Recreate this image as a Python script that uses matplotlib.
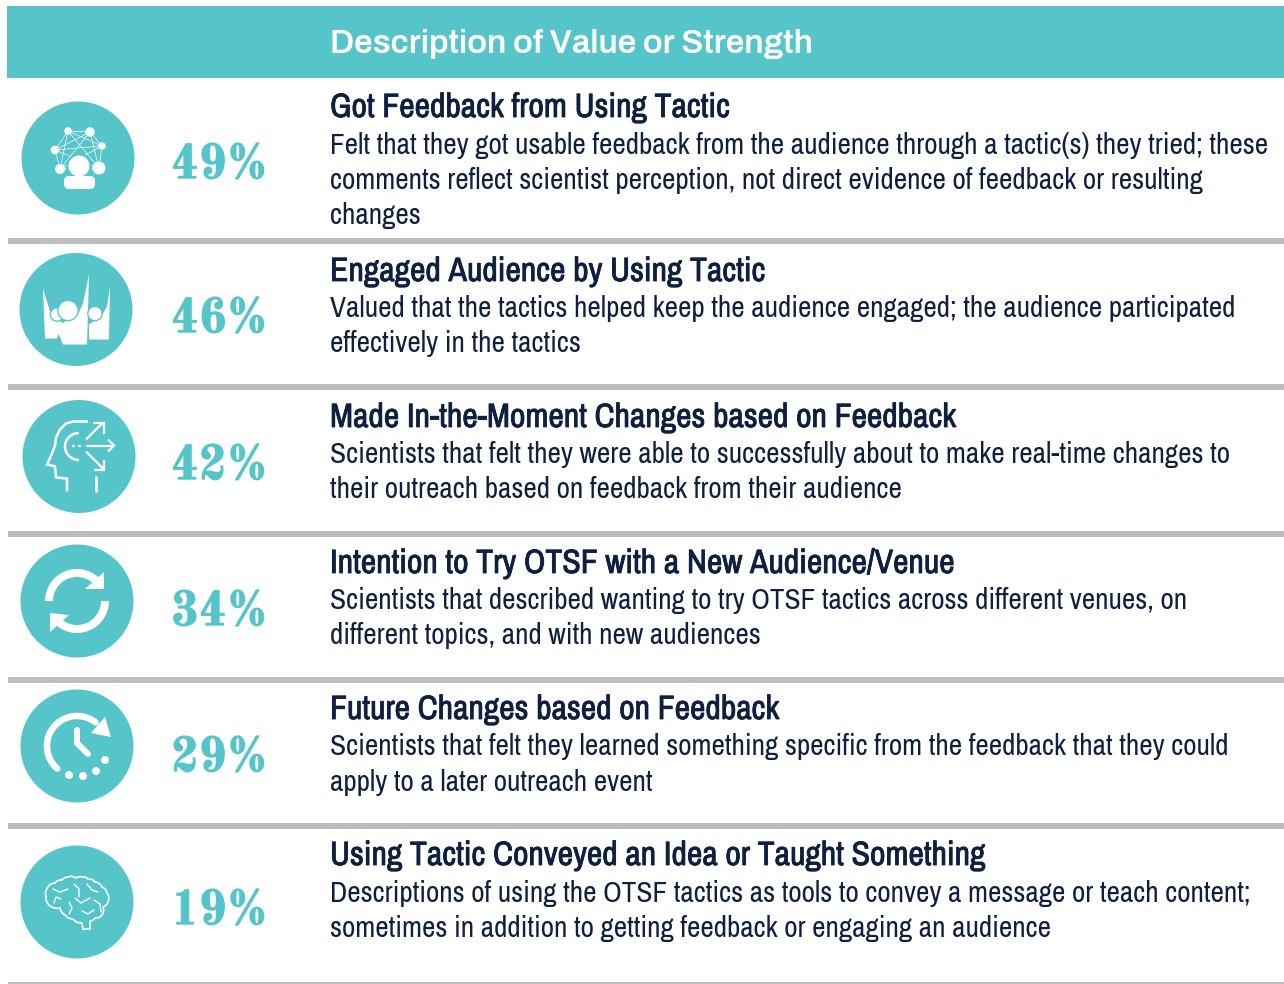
import matplotlib
matplotlib.use("Agg")
import matplotlib.pyplot as plt
import matplotlib.patheffects as pe
from matplotlib.patches import Rectangle, Circle, Polygon, Wedge, Arc, FancyBboxPatch, PathPatch
from matplotlib.path import Path
import numpy as np

TEAL = "#55C5C9"
NAVY = "#0E1F40"
GREY = "#BDBDBD"

header = "Description of Value or Strength"
percents = ["49%", "46%", "42%", "34%", "29%", "19%"]
titles = ["Got Feedback from Using Tactic", "Engaged Audience by Using Tactic",
          "Made In-the-Moment Changes based on Feedback", "Intention to Try OTSF with a New Audience/Venue",
          "Future Changes based on Feedback", "Using Tactic Conveyed an Idea or Taught Something"]
descriptions = [
    ["Felt that they got usable feedback from the audience through a tactic(s) they tried; these",
     "comments reflect scientist perception, not direct evidence of feedback or resulting", "changes"],
    ["Valued that the tactics helped keep the audience engaged; the audience participated",
     "effectively in the tactics"],
    ["Scientists that felt they were able to successfully about to make real-time changes to",
     "their outreach based on feedback from their audience"],
    ["Scientists that described wanting to try OTSF tactics across different venues, on",
     "different topics, and with new audiences"],
    ["Scientists that felt they learned something specific from the feedback that they could",
     "apply to a later outreach event"],
    ["Descriptions of using the OTSF tactics as tools to convey a message or teach content;",
     "sometimes in addition to getting feedback or engaging an audience"],
]
title_y = [117, 281, 427, 573, 719, 865]
desc_y = [[154, 189, 224], [317, 352], [463, 498], [609, 644], [755, 791], [902, 937]]
pct_y = [161, 315, 462, 608, 754, 907]
icon_xy = [(78, 158), (76, 309.5), (79, 456.5), (77, 601), (77, 746), (77, 902)]
rule_y = [241, 387, 534, 680, 826]

fig = plt.figure(figsize=(12.84, 9.84), dpi=100, facecolor="white")
ax = fig.add_axes([0, 0, 1, 1])
ax.set_xlim(0, 1284)
ax.set_ylim(984, 0)
ax.axis("off")

ax.add_patch(Rectangle((7, 6), 1277, 72, fc=TEAL, ec="none"))
ax.text(330, 44, header, color="white", fontsize=23.85, fontweight="bold",
        family=["Archivo", "Inter", "DejaVu Sans"], va="center")

for y in rule_y:
    ax.add_patch(Rectangle((8, y - 3), 1276, 6, fc=GREY, ec="none"))
ax.add_patch(Rectangle((8, 981.5), 1276, 2, fc=GREY, ec="none"))


def line(xs, ys, lw=1.6, cap="butt", **kw):
    ax.plot(xs, ys, color="white", lw=lw, zorder=4, solid_capstyle=cap, solid_joinstyle="miter", **kw)


def tri(cx, cy, pts, z=4):
    ax.add_patch(Polygon([(cx + x, cy + y) for x, y in pts], closed=True, fc="white", ec="none", zorder=z))


def dot(cx, cy, dx, dy, r, z=4, fc="white"):
    ax.add_patch(Circle((cx + dx, cy + dy), r, fc=fc, ec="none", zorder=z))


def icon_network(cx, cy):
    nodes = [(-10, -27, 3.7), (12, -26, 4.7), (24, -12, 3.7), (-23, -8, 4.3), (-18, 11, 5), (21, 10, 6.5)]
    for i in range(len(nodes)):
        for j in range(i + 1, len(nodes)):
            line([cx + nodes[i][0], cx + nodes[j][0]], [cy + nodes[i][1], cy + nodes[j][1]], lw=0.5)
    for dx, dy, r in nodes:
        dot(cx, cy, dx, dy, r)
    dot(cx, cy, 1, 8, 12.5, z=4.5, fc=TEAL)
    dot(cx, cy, 1, 8, 10.5, z=5)
    ax.add_patch(FancyBboxPatch((cx - 14, cy + 18), 31, 13, boxstyle="round,pad=0,rounding_size=5",
                                fc="white", ec="none", zorder=5))


def icon_crowd(cx, cy):
    tri(cx, cy, [(-33, -21), (-26, 2), (-20, 10), (-10, 15), (-15, 18), (-19, 29), (-31, 29)])
    tri(cx, cy, [(34, -23), (31, -3), (26, 6), (19, 11), (13, 15), (13, 30), (33, 30)])
    tri(cx, cy, [(-20, 18), (-9, 11), (2, 5), (7, -6), (13, -35), (11, 35), (-13, 35)], z=4.6)
    for dx, dy, r in ((-19, 5, 6), (-8, 1, 9.5), (19, 4, 6.5)):
        dot(cx, cy, dx, dy, r + 1.3, z=4.5 if dx < -10 else 4.7, fc=TEAL)
        dot(cx, cy, dx, dy, r, z=4.55 if dx < -10 else 4.8)


def icon_head(cx, cy):
    pts = [(9, -35), (-6, -35), (-13, -33), (-19, -27), (-23, -19), (-24, -11), (-27, -3), (-32, 8), (-24, 10),
           (-23, 21), (-12, 22), (-12, 35)]
    line([cx + p[0] for p in pts], [cy + p[1] for p in pts], lw=1.8)
    line([cx + 17, cx + 17], [cy + 19, cy + 35], lw=2)
    ax.add_patch(Arc((cx, cy - 10), 28, 27, theta1=90, theta2=270, color="white", lw=1.8, zorder=4))
    line([cx - 7, cx + 5], [cy - 11, cy - 11], lw=1.6, linestyle=(0, (1.2, 1.6)))
    line([cx + 7, cx + 34], [cy - 11, cy - 11], lw=1.6)
    line([cx + 29, cx + 35, cx + 29], [cy - 17, cy - 11, cy - 5], lw=1.6)
    line([cx + 7, cx + 24], [cy - 17, cy - 34], lw=1.6)
    line([cx + 14, cx + 25, cx + 25], [cy - 34, cy - 34, cy - 23], lw=1.6)
    line([cx + 7, cx + 24], [cy - 5, cy + 12], lw=1.6)
    line([cx + 25, cx + 25, cx + 15], [cy + 3, cy + 13, cy + 13], lw=1.6)


def icon_cycle(cx, cy):
    ax.add_patch(Wedge((cx, cy), 32, 180, 318, width=8, fc="white", ec="none", zorder=4))
    ax.add_patch(Wedge((cx, cy), 32, 0, 138, width=8, fc="white", ec="none", zorder=4))
    tri(cx, cy, [(27, -29), (27, -12), (8, -12)])
    tri(cx, cy, [(-27, 31), (-27, 12), (-8, 14)])


def icon_clock(cx, cy):
    ts = np.radians(np.arange(131, 311, 3))
    line(cx + 30 * np.cos(ts), cy + 30 * np.sin(ts), lw=4.7, cap="round")
    tri(cx, cy, [(28, -29), (34, -9), (14, -13)])
    ax.plot([cx, cx, cx + 11], [cy - 16, cy - 3, cy + 8], color="white", lw=4.3, zorder=4,
            solid_capstyle="round", solid_joinstyle="round")
    for dx, dy in ((-8, 29), (6, 30), (19, 25), (28, 14)):
        dot(cx, cy, dx, dy, 4)


def curve(cx, cy, pts, bulge=0.35, lw=1.2):
    verts = [(cx + pts[0][0], cy + pts[0][1])]
    codes = [Path.MOVETO]
    for (x0, y0), (x1, y1) in zip(pts[:-1], pts[1:]):
        mx, my = (x0 + x1) / 2, (y0 + y1) / 2
        verts += [(cx + mx + (y1 - y0) * bulge, cy + my - (x1 - x0) * bulge), (cx + x1, cy + y1)]
        codes += [Path.CURVE3, Path.CURVE3]
    ax.add_patch(PathPatch(Path(verts, codes), fc="none", ec="white", lw=lw, zorder=4, capstyle="round"))


def icon_brain(cx, cy):
    outline = [(-31, -5), (-29, -15), (-22, -19), (-15, -22), (-9, -25), (-1, -24), (5, -25), (11, -23), (18, -20),
               (25, -15), (30, -9), (31, 0), (26, 5), (25, 13), (18, 16), (13, 19)]
    curve(cx, cy, outline, bulge=0.28)
    curve(cx, cy, [(-31, -5), (-30, 0), (-25, 5), (-17, 6), (-12, 13), (-4, 17), (5, 21)], bulge=-0.25)
    line([cx + 5, cx + 6, cx + 13, cx + 13], [cy + 21, cy + 27, cy + 27, cy + 19], lw=1.2)
    for pts in ([(-24, -13), (-17, -10), (-9, -13)], [(-3, -18), (2, -13), (2, -5)], [(-2, -4), (4, 1), (13, -4)],
                [(10, -18), (15, -12), (21, -10)], [(-23, 1), (-21, -5), (-16, -3)], [(-8, 0), (-5, 6), (-8, 12)],
                [(5, 9), (11, 12), (17, 8)], [(17, -2), (23, 2), (24, 10)]):
        curve(cx, cy, pts, bulge=0.0, lw=1.0)


drawers = [icon_network, icon_crowd, icon_head, icon_cycle, icon_clock, icon_brain]
for (cx, cy), draw in zip(icon_xy, drawers):
    ax.add_patch(Circle((cx, cy), 56.5, fc=TEAL, ec="none", zorder=3))
    draw(cx, cy)

for p, y in zip(percents, pct_y):
    ax.text(219.5, y, p, color=TEAL, fontsize=34.5, fontweight="bold", family=["Old Standard TT", "DejaVu Serif"],
            ha="center", va="center_baseline",
            path_effects=[pe.withStroke(linewidth=1.0, foreground=TEAL)])

COND = ["Archivo Narrow", "Roboto", "DejaVu Sans"]
for t, y, lines, ys in zip(titles, title_y, descriptions, desc_y):
    ax.text(330, y, t, color=NAVY, fontsize=24.3, fontweight="bold", family=COND, va="baseline",
            path_effects=[pe.withStroke(linewidth=0.6, foreground=NAVY)])
    for l, ly in zip(lines, ys):
        ax.text(330, ly, l, color=NAVY, fontsize=21.07, family=COND, va="baseline")

fig.savefig("out.png", dpi=100)
